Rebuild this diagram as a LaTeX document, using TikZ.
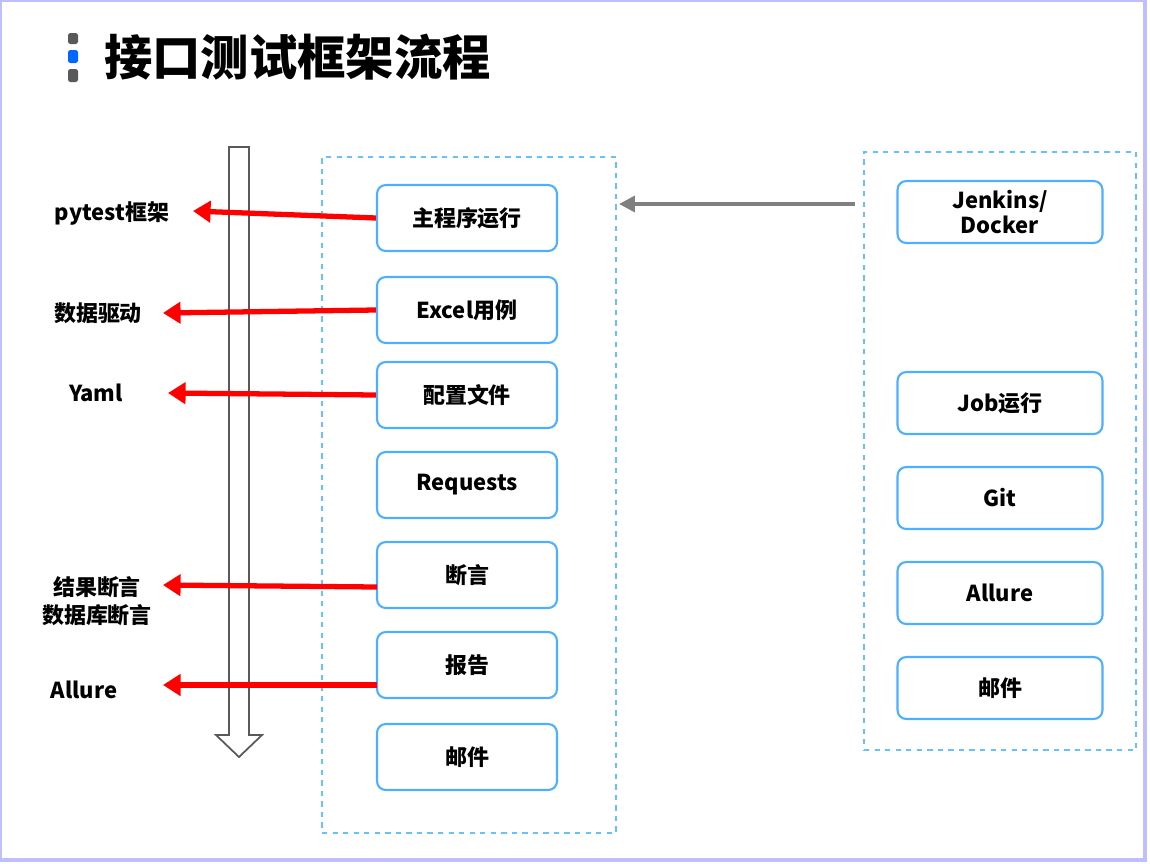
\documentclass[tikz,border=0pt]{standalone}
\usepackage{fontspec}
\setmainfont{Noto Sans CJK SC}
\usetikzlibrary{arrows.meta}
\begin{document}
\begin{tikzpicture}[x=0.02cm,y=-0.02cm,
  box/.style={draw=blue!45!cyan!70,line width=1.2pt,rounded corners=5pt,minimum width=3.6cm,minimum height=1.32cm,font=\bfseries\fontsize{12.5}{14}\selectfont,align=center,fill=white},
  rbox/.style={box,minimum width=4.1cm,minimum height=1.24cm},
  dbox/.style={draw=blue!40!cyan!60,dashed,line width=0.8pt},
  red/.style={draw=red,line width=3pt,-{Triangle[length=10pt,width=12pt]}},
  lab/.style={font=\bfseries\fontsize{12.5}{16}\selectfont,align=center}]
\useasboundingbox (0,0) rectangle (1150,863);
\draw[blue!25,line width=2pt] (0,0) rectangle (1145,860);
% title
\fill[gray!70!black,rounded corners=1pt] (68,33) rectangle (78,44);
\fill[blue!60!cyan,rounded corners=1pt] (68,50) rectangle (78,63);
\fill[gray!70!black,rounded corners=1pt] (68,69) rectangle (78,82);
\node[anchor=west,font=\bfseries\fontsize{27.5}{30}\selectfont] (title) at (98,57) {接口测试框架流程};
% hollow arrow
\draw[gray!70!black,line width=1pt,fill=white] (229,147) -- (249,147) -- (249,735) -- (262,735) -- (239,757) -- (216,735) -- (229,735) -- cycle;
% dashed boxes
\node[dbox,minimum width=5.88cm,minimum height=13.52cm] (L) at (469,495) {};
\node[dbox,minimum width=5.44cm,minimum height=11.96cm] (R) at (1000,451) {};
% left boxes
\node[box] (b1) at (467,218) {主程序运行};
\node[box] (b2) at (467,310) {Excel用例};
\node[box] (b3) at (467,395) {配置文件};
\node[box] (b4) at (467,485) {Requests};
\node[box] (b5) at (467,575) {断言};
\node[box] (b6) at (467,665) {报告};
\node[box] (b7) at (467,757) {邮件};
% right boxes
\node[rbox] (r1) at (1000,212) {Jenkins/\\Docker};
\node[rbox] (r2) at (1000,403) {Job运行};
\node[rbox] (r3) at (1000,498) {Git};
\node[rbox] (r4) at (1000,593) {Allure};
\node[rbox] (r5) at (1000,688) {邮件};
% labels
\node[lab] (l1) at (112,213) {pytest框架};
\node[lab] (l2) at (98,313) {数据驱动};
\node[lab] (l3) at (96,393) {Yaml};
\node[lab] (l4) at (97,601) {结果断言\\数据库断言};
\node[lab] (l5) at (84,690) {Allure};
\coordinate (a1) at (193,211);
\coordinate (a2) at (163,313);
\coordinate (a3) at (168,393);
\coordinate (a4) at (163,585);
\coordinate (a5) at (163,685);
\draw[red] (b1.west) -- (a1);
\draw[red] (b2.west) -- (a2);
\draw[red] (b3.west) -- (a3);
\draw[red] (377,587) -- (a4);
\draw[red] (377,685) -- (a5);
\coordinate (g1) at (855,204);
\coordinate (g2) at (619,204);
\draw[gray,line width=2pt,-{Triangle[length=9pt,width=9pt]}] (g1) -- (g2);
\end{tikzpicture}
\end{document}
